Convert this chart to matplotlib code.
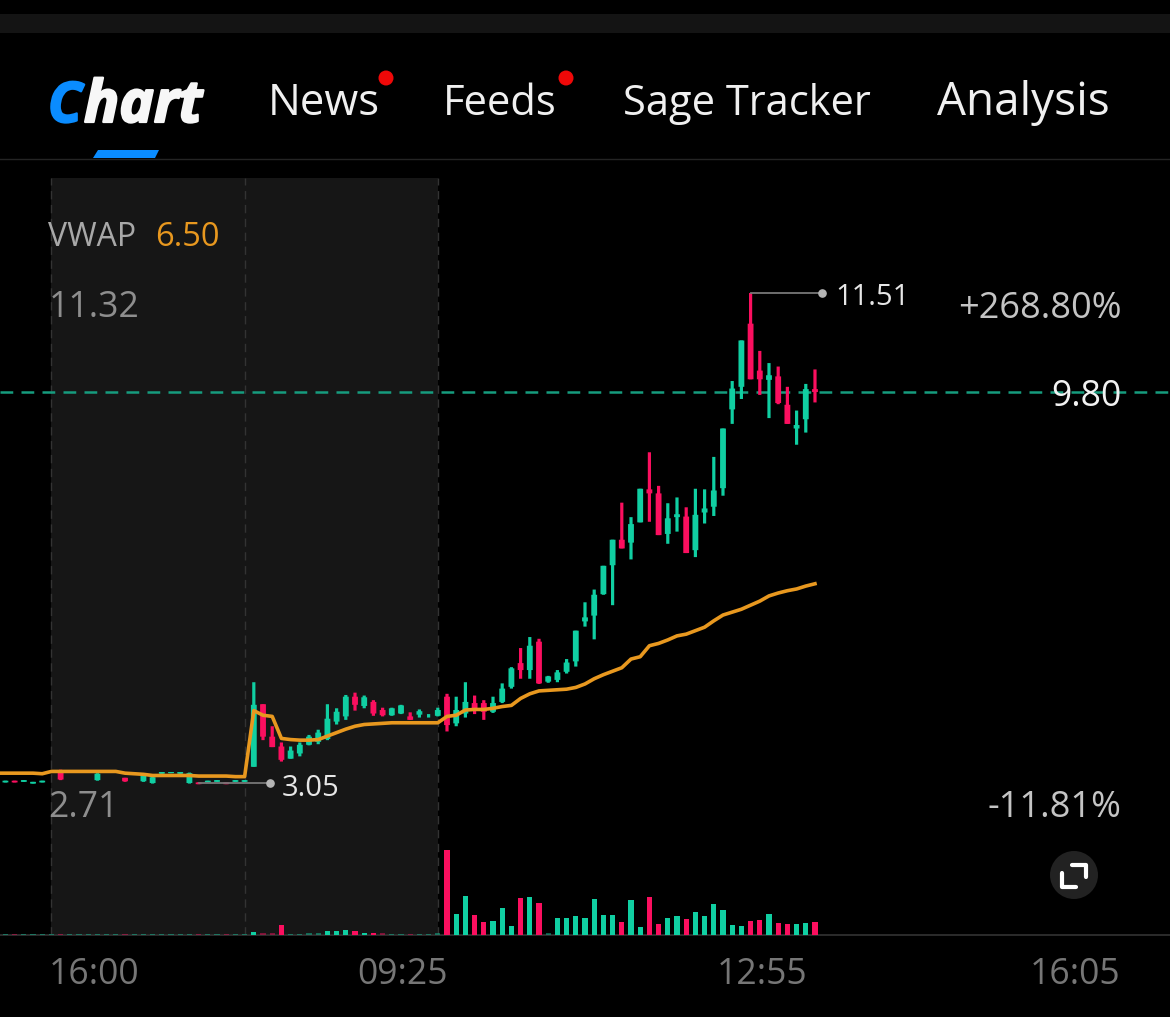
import numpy as np
import matplotlib
matplotlib.use("Agg")
import matplotlib.pyplot as plt
import matplotlib.patheffects as pe
from matplotlib.patches import Circle, Polygon, Rectangle

plt.rcParams['font.family'] = ['Open Sans', 'DejaVu Sans']

GREEN = '#10cfa2'
RED = '#fb0f5f'
ORANGE = '#e8981f'

# bar number, 0 is the first bar of the regular session
bars = np.arange(-48, 41)

opens = [3.06, 3.09, 3.07, 3.04, 3.06, 3.24, 3.24, 3.24, 3.24, 3.24, 3.10, 3.24, 3.24, 3.14, 3.20,
         3.08, 3.05, 3.21, 3.22, 3.21, 3.05, 3.06, 3.06, 3.07, 3.06, 3.07, 3.07,
         3.33, 4.41, 3.85, 3.68, 3.47, 3.56, 3.71, 3.76, 3.81, 4.11, 4.20, 4.54, 4.38, 4.45, 4.31, 4.22,
         4.25, 4.20, 4.23, 4.19,
         4.21, 4.54, 4.08, 4.25, 4.43, 4.43, 4.28, 4.45, 4.71, 5.12, 5.00, 5.49, 4.80, 4.83, 4.97, 5.15,
         5.84, 5.94, 6.31, 6.81, 7.25, 7.20, 7.55, 8.12, 8.05, 7.35, 7.64, 7.65, 7.07, 7.72, 7.82, 8.14,
         9.50, 9.89, 10.98, 10.17, 10.01, 10.07, 9.58, 9.17, 9.33, 9.85]
highs = [3.09, 3.09, 3.10, 3.07, 3.09, 3.25, 3.28, 3.25, 3.25, 3.25, 3.22, 3.25, 3.25, 3.14, 3.21,
         3.19, 3.16, 3.24, 3.24, 3.24, 3.23, 3.06, 3.09, 3.10, 3.06, 3.10, 3.10,
         4.79, 4.41, 4.03, 3.75, 3.68, 3.75, 3.88, 3.97, 4.41, 4.34, 4.57, 4.61, 4.56, 4.48, 4.35, 4.35,
         4.40, 4.27, 4.32, 4.24,
         4.35, 4.59, 4.54, 4.79, 4.56, 4.48, 4.54, 4.77, 5.05, 5.38, 5.57, 5.54, 4.90, 5.00, 5.19, 5.68,
         6.17, 6.39, 6.80, 7.25, 7.89, 7.64, 8.13, 8.76, 8.18, 7.88, 7.98, 7.81, 8.13, 8.12, 8.68, 9.17,
         9.99, 10.69, 11.51, 10.51, 10.30, 10.24, 9.89, 9.48, 9.94, 10.19]
lows = [3.06, 3.06, 3.07, 3.04, 3.06, 3.24, 3.10, 3.24, 3.24, 3.24, 3.09, 3.24, 3.24, 3.07, 3.20,
        3.07, 3.04, 3.21, 3.22, 3.21, 3.04, 3.03, 3.06, 3.07, 3.03, 3.07, 3.07,
        3.33, 3.79, 3.67, 3.42, 3.47, 3.51, 3.70, 3.72, 3.79, 4.06, 4.14, 4.30, 4.34, 4.21, 4.20, 4.21,
        4.24, 4.14, 4.18, 4.18,
        4.20, 3.94, 4.03, 4.18, 4.24, 4.14, 4.26, 4.43, 4.68, 4.85, 4.85, 4.76, 4.78, 4.79, 4.94, 5.06,
        5.75, 5.53, 6.30, 6.12, 7.10, 6.91, 7.55, 7.56, 7.33, 7.18, 7.39, 7.02, 6.95, 7.53, 7.66, 8.01,
        9.25, 9.68, 10.02, 9.75, 9.35, 9.59, 9.25, 8.89, 9.10, 9.62]
closes = [3.09, 3.06, 3.10, 3.07, 3.09, 3.25, 3.11, 3.25, 3.25, 3.25, 3.21, 3.25, 3.25, 3.08, 3.21,
          3.18, 3.15, 3.24, 3.24, 3.24, 3.22, 3.03, 3.09, 3.10, 3.03, 3.10, 3.10,
          4.40, 3.85, 3.67, 3.45, 3.61, 3.71, 3.85, 3.92, 4.16, 4.28, 4.54, 4.40, 4.53, 4.25, 4.22, 4.34,
          4.39, 4.14, 4.29, 4.19,
          4.31, 4.05, 4.31, 4.45, 4.34, 4.28, 4.43, 4.68, 5.03, 5.00, 5.42, 4.77, 4.89, 4.96, 5.13, 5.68,
          5.91, 6.30, 6.80, 7.25, 7.10, 7.52, 8.13, 8.05, 7.33, 7.62, 7.69, 7.02, 7.68, 7.79, 8.10, 9.17,
          9.86, 10.69, 10.02, 10.02, 10.09, 9.61, 9.25, 9.23, 9.85, 9.80]

volumes = [4, 4, 4, 4, 4, 4, 4, 4, 4, 4, 4, 4, 4, 4, 4,
           4, 4, 4, 4, 4, 4, 4, 4, 4, 4, 4, 4,
           10, 5, 5, 30, 4, 4, 5, 5, 12, 12, 15, 13, 6, 7, 5, 4, 4, 4, 4, 4, 5,
           255, 63, 117, 60, 39, 42, 81, 27, 111, 115, 97, 5, 50, 50, 58, 50, 108, 60, 60, 38, 105, 25,
           113, 34, 51, 56, 49, 68, 58, 92, 75, 31, 27, 42, 44, 63, 37, 33, 34, 37, 38]

vwap = [3.22, 3.22, 3.22, 3.22, 3.22, 3.21, 3.25, 3.25, 3.25, 3.25, 3.25, 3.25, 3.25, 3.25, 3.22,
        3.21, 3.20, 3.18, 3.18, 3.18, 3.18, 3.18, 3.17, 3.17, 3.17, 3.17, 3.16, 3.16,
        4.30, 4.22, 4.20, 3.82, 3.80, 3.79, 3.79, 3.80, 3.86, 3.92, 3.98, 4.03, 4.06, 4.07, 4.08, 4.09,
        4.09, 4.09, 4.09, 4.09, 4.09,
        4.20, 4.22, 4.31, 4.32, 4.32, 4.34, 4.37, 4.39, 4.51, 4.59, 4.64, 4.65, 4.66, 4.67, 4.70, 4.76,
        4.85, 4.92, 4.98, 5.04, 5.19, 5.23, 5.42, 5.46, 5.52, 5.59, 5.62, 5.68, 5.74, 5.85, 5.95, 6.00,
        6.05, 6.12, 6.19, 6.28, 6.33, 6.37, 6.40, 6.45, 6.49]
vwap_bars = np.arange(-49, 41)

last_price = 9.80
high_price = 11.51
low_price = 3.05
tick_pos = [-38.4, -4.8, 34.2, 68.3]
tick_labels = ['16:00', '09:25', '12:55', '16:05']

W, H = 1170, 1017
fig = plt.figure(figsize=(W / 100, H / 100), dpi=100, facecolor='black')


def box(top, bottom):
    return [0, (H - bottom) / H, 1, (bottom - top) / H]


# pixel layer for the app header and the small controls
ui = fig.add_axes([0, 0, 1, 1], zorder=5)
ui.set_xlim(0, W)
ui.set_ylim(H, 0)
ui.axis('off')
ui.patch.set_alpha(0)

ax = fig.add_axes(box(178, 935), zorder=1)
ax.set_facecolor('black')
ax.set_xlim(-48.59, 78.59)
ax.set_ylim(0.426, 13.495)
for side in ['top', 'left', 'right']:
    ax.spines[side].set_visible(False)
ax.spines['bottom'].set_color('#2c2c2c')
ax.spines['bottom'].set_linewidth(1.4)
ax.set_yticks([])
ax.set_xticks(tick_pos)
ax.set_xticklabels(tick_labels, fontsize=25.6, color='#767676')
ax.tick_params(axis='x', length=0, pad=16)

# closed session shading and its dashed edges
ax.axvspan(-43, -1, color='#161616', lw=0, zorder=0)
for b in [-43, -22, -1]:
    ax.axvline(b, color='#333333', lw=1, dashes=(6, 4), zorder=1)

ax.axhline(last_price, color='#169c7e', lw=1.8, dashes=(5.1, 3.3), zorder=2)

opens = np.array(opens)
closes = np.array(closes)
colors = [RED if c < o else GREEN for o, c in zip(opens, closes)]

# snapping pulls wick and body apart by a pixel
ax.vlines(bars, lows, highs, colors=colors, lw=2.3, zorder=3, snap=False)
ax.vlines(bars, opens, closes, colors=colors, lw=4.2, zorder=3, snap=False)
ax.plot(vwap_bars, vwap, color=ORANGE, lw=2.6, solid_joinstyle='round', zorder=4)

# high and low callouts
hi_bar = bars[np.argmax(highs)]
lo_bar = -22
ax.plot([hi_bar, hi_bar + 7.8], [high_price, high_price], color='#777777', lw=1.3, zorder=3)
ax.plot([hi_bar + 7.8], [high_price], 'o', color='#b5b5b5', ms=5.2, zorder=5)
ax.text(hi_bar + 9.2, high_price - 0.07, '11.51', fontsize=21, color='#e6e6e6', va='center', ha='left')
ax.plot([lo_bar - 5, lo_bar + 2.8], [low_price, low_price], color='#777777', lw=1.3, zorder=3)
ax.plot([lo_bar + 2.8], [low_price], 'o', color='#b5b5b5', ms=5.2, zorder=5)
ax.text(lo_bar + 4, low_price - 0.10, '3.05', fontsize=21, color='#e6e6e6', va='center', ha='left')

ax.text(-43.3, 11.32 - 0.07, '11.32', fontsize=25.6, color='#8e8e8e', va='center', ha='left')
ax.text(-43.3, 2.71 - 0.10, '2.71', fontsize=25.6, color='#8e8e8e', va='center', ha='left')
ax.text(73.3, 11.32 - 0.09, '+268.80%', fontsize=26, color='#c4c4c4', va='center', ha='right')
ax.text(73.3, 2.71 - 0.10, '-11.81%', fontsize=26, color='#c4c4c4', va='center', ha='right')
ax.text(73.3, last_price - 0.09, '9.80', fontsize=25.6, color='#f2f2f2', va='center', ha='right', zorder=6)

# volume pane shares the x scale
vol = fig.add_axes(box(845, 935), zorder=2)
vol.set_xlim(ax.get_xlim())
vol.set_ylim(0, 270)
vol.axis('off')
vol.patch.set_alpha(0)
vol_alpha = [0.45 if v <= 5 else 1 for v in volumes]
for b, v, c, a in zip(bars, volumes, colors, vol_alpha):
    vol.bar(b, v, width=0.55, color=c, alpha=a, lw=0)

# header
ui.add_patch(Rectangle((0, 14), W, 19, color='#141414', lw=0))
ui.plot([0, W], [158.5, 158.5], color='#242424', lw=1)
ui.add_patch(Polygon([(98, 150), (159, 150), (155, 158), (93, 158)], color='#0a8cff', lw=0))
logo_stroke = [pe.withStroke(linewidth=1.6, foreground='#f7f7f7')]
ui.text(48, 122, 'C', fontsize=40, color='#0a8cff', fontweight='bold', style='italic', va='baseline',
        path_effects=[pe.withStroke(linewidth=1.6, foreground='#0a8cff')])
ui.text(84, 122, 'hart', fontsize=42, color='#f7f7f7', fontweight='bold', style='italic', va='baseline',
        path_effects=logo_stroke)
for x, label, size in [(268, 'News', 31.5), (443, 'Feeds', 30), (623, 'Sage Tracker', 30), (937, 'Analysis', 33)]:
    ui.text(x, 115, label, fontsize=size, color='#f0f0f0', va='baseline')
for x in [386, 566]:
    ui.add_patch(Circle((x, 78), 7.5, color='#f00808', lw=0))

ui.text(48, 238, 'VWAP', fontsize=23, color='#a8a8a8', va='center')
ui.text(155, 238, '6.50', fontsize=23.5, color=ORANGE, va='center')

# expand button
ui.add_patch(Circle((1074, 875), 24, color='#222222', lw=0))
ui.plot([1072, 1086, 1086], [865, 865, 877], color='white', lw=3, solid_capstyle='round', solid_joinstyle='round')
ui.plot([1062, 1062, 1076], [873, 887, 887], color='white', lw=3, solid_capstyle='round', solid_joinstyle='round')

fig.savefig('out.png', dpi=100, facecolor='black')
